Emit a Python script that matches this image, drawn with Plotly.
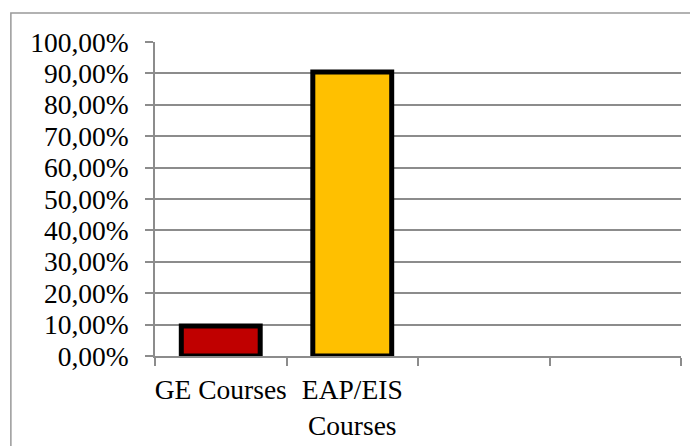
import plotly.graph_objects as go

categories = ["GE Courses", "EAP/EIS<br>Courses", " ", "  "]
values = [0.0952, 0.9048, None, None]
colors = ["#C00000", "#FFC000", "#FFFFFF", "#FFFFFF"]
y_ticks = [i / 10 for i in range(11)]

FONT = "Liberation Serif"
GRID = "#8C8C8C"

fig = go.Figure(
    go.Bar(
        x=categories,
        y=values,
        width=0.6,
        marker=dict(color=colors, line=dict(color="#000000", width=5)),
        hoverinfo="skip",
    )
)

fig.update_layout(
    width=698,
    height=446,
    margin=dict(l=147, r=25, t=34, b=98, autoexpand=False),
    paper_bgcolor="white",
    plot_bgcolor="white",
    separators=", ",
    showlegend=False,
    font=dict(family=FONT, size=27.5, color="#000000"),
    shapes=[
        dict(
            type="rect",
            xref="paper",
            yref="paper",
            x0=-0.274,
            x1=1.2,
            y0=-0.5,
            y1=1.0925,
            line=dict(color="#999999", width=1.5),
            fillcolor="rgba(0,0,0,0)",
            layer="below",
        )
    ],
)

fig.update_xaxes(
    type="category",
    categoryorder="array",
    categoryarray=categories,
    tickson="boundaries",
    ticks="outside",
    ticklen=8,
    tickcolor=GRID,
    tickwidth=1.5,
    showline=True,
    linecolor=GRID,
    linewidth=1.5,
    showgrid=False,
    tickangle=0,
    automargin=False,
    ticklabelstandoff=8,
    tickfont=dict(family=FONT, size=27.5),
)

fig.update_yaxes(
    range=[0, 1],
    tickvals=y_ticks,
    tickformat=".2%",
    ticks="outside",
    ticklen=8,
    tickcolor=GRID,
    tickwidth=1.5,
    showline=True,
    linecolor=GRID,
    linewidth=1.5,
    showgrid=True,
    gridcolor=GRID,
    gridwidth=1.5,
    zeroline=False,
    automargin=False,
    ticklabelstandoff=11,
    tickfont=dict(family=FONT, size=27.5),
)

fig.write_html("out.html")
